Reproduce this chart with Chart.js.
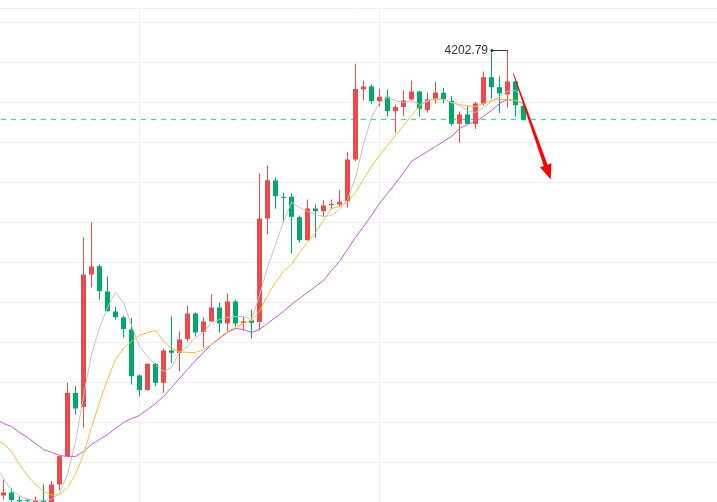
<!DOCTYPE html>
<html lang="en">
<head>
<meta charset="UTF-8">
<title>Gold candles</title>
<script src="https://cdn.jsdelivr.net/npm/chart.js"></script>
<style>
  html, body { margin: 0; padding: 0; background: #ffffff; }
  #wrap { width: 717px; height: 502px; position: relative; }
</style>
</head>
<body>
<div id="wrap"><canvas id="chart"></canvas></div>
<script>
// one entry per candle, oldest first
const opens = [4091.63, 4092.38, 4090.5, 4090.5, 4089.88, 4090.38, 4089.88, 4094.38, 4101.45, 4117.3,
  4113.75, 4146.88, 4148.95, 4142.63, 4137.63, 4136.13, 4133.13, 4121.63, 4117.95, 4124.55,
  4119.8, 4127.88, 4127.3, 4130.75, 4137.13, 4132.45, 4135.13, 4138.63, 4134.63, 4140.13,
  4134.75, 4135.38, 4135.0, 4160.88, 4170.38, 4166.3, 4166.3, 4161.2, 4155.45, 4163.38,
  4162.7, 4164.25, 4164.38, 4165.13, 4175.63, 4193.13, 4193.88, 4190.2, 4191.3, 4187.7,
  4188.75, 4190.63, 4192.63, 4188.0, 4190.63, 4192.3, 4190.3, 4184.55, 4186.88, 4184.5,
  4189.55, 4196.2, 4193.7, 4191.88, 4195.13, 4189.0];
const highs = [4095.63, 4093.38, 4091.45, 4090.88, 4091.38, 4094.38, 4095.13, 4101.63, 4119.8, 4118.95,
  4156.13, 4159.88, 4149.38, 4146.38, 4138.8, 4136.63, 4136.05, 4121.88, 4124.63, 4124.8,
  4128.38, 4136.38, 4132.63, 4139.13, 4137.45, 4136.13, 4141.88, 4139.8, 4142.13, 4140.63,
  4136.38, 4138.13, 4172.13, 4174.13, 4171.05, 4167.3, 4167.13, 4161.63, 4165.63, 4164.38,
  4165.45, 4165.63, 4167.95, 4177.55, 4199.55, 4195.38, 4194.38, 4193.3, 4193.13, 4189.38,
  4192.88, 4195.38, 4192.88, 4192.38, 4195.13, 4193.55, 4191.45, 4187.63, 4189.13, 4190.05,
  4197.63, 4202.4, 4196.45, 4202.79, 4195.75, 4189.63];
const lows = [4090.63, 4089.88, 4089.63, 4089.88, 4089.38, 4088.63, 4089.38, 4092.95, 4101.38, 4111.88,
  4108.63, 4143.63, 4140.63, 4137.63, 4135.63, 4131.13, 4119.38, 4116.38, 4117.88, 4118.95,
  4117.3, 4124.75, 4122.7, 4130.13, 4131.45, 4128.63, 4135.13, 4132.38, 4132.63, 4133.88,
  4132.88, 4130.88, 4132.88, 4156.88, 4163.3, 4159.8, 4152.2, 4154.8, 4155.38, 4156.05,
  4161.3, 4163.13, 4163.95, 4163.63, 4175.2, 4190.38, 4189.55, 4188.88, 4186.45, 4182.3,
  4186.45, 4190.2, 4186.3, 4187.38, 4189.63, 4189.63, 4184.0, 4179.8, 4184.5, 4183.25,
  4189.13, 4190.8, 4187.25, 4188.63, 4186.38, 4185.38];
const closes = [4092.38, 4090.5, 4090.13, 4090.25, 4090.5, 4089.13, 4094.38, 4101.45, 4117.3, 4113.38,
  4146.88, 4148.88, 4142.7, 4137.7, 4136.2, 4133.25, 4121.45, 4117.95, 4124.55, 4119.8,
  4127.88, 4127.3, 4130.63, 4137.13, 4132.38, 4135.13, 4138.63, 4134.63, 4140.13, 4134.63,
  4135.13, 4134.8, 4160.88, 4170.45, 4166.45, 4166.05, 4161.3, 4155.45, 4163.38, 4162.7,
  4164.13, 4164.5, 4165.05, 4175.63, 4193.25, 4193.88, 4190.2, 4191.3, 4187.7, 4188.75,
  4190.38, 4192.63, 4188.3, 4190.63, 4192.38, 4190.75, 4184.55, 4186.88, 4184.55, 4189.63,
  4196.2, 4193.7, 4192.13, 4195.13, 4189.2, 4185.63];

// moving averages; they start one bar earlier (off the left edge)
const maFast = [4099.13, 4095.88, 4092.88, 4091.63, 4090.63, 4090.38, 4090.38, 4090.63, 4092.13, 4096.88, 4105.13,
  4116.38, 4126.88, 4133.63, 4138.63, 4142.38, 4139.88, 4134.13, 4128.88, 4126.38, 4124.38,
  4122.63, 4123.63, 4127.38, 4128.88, 4131.13, 4132.38, 4134.88, 4135.63, 4136.13, 4136.38,
  4136.38, 4135.63, 4141.63, 4148.63, 4154.38, 4160.13, 4164.88, 4163.63, 4162.63, 4161.88,
  4161.38, 4161.63, 4163.13, 4165.63, 4171.13, 4179.38, 4186.13, 4189.88, 4191.13, 4190.38,
  4189.88, 4190.38, 4189.38, 4190.13, 4190.88, 4190.63, 4189.88, 4189.13, 4187.88, 4187.38,
  4188.63, 4190.13, 4191.38, 4192.63, 4192.88, 4190.88];
const maMid = [4105.38, 4104.63, 4102.63, 4099.38, 4096.63, 4094.38, 4092.63, 4091.75, 4091.88, 4093.63, 4096.88,
  4101.88, 4108.63, 4114.88, 4120.63, 4125.63, 4128.38, 4130.13, 4131.63, 4132.38, 4132.88,
  4130.13, 4128.38, 4127.63, 4127.38, 4127.38, 4128.13, 4129.38, 4131.13, 4132.63, 4133.63,
  4134.63, 4135.38, 4137.63, 4141.63, 4144.88, 4147.63, 4149.38, 4152.38, 4154.88, 4157.38,
  4160.38, 4163.38, 4163.88, 4164.88, 4167.38, 4170.63, 4173.88, 4176.63, 4179.13, 4181.63,
  4184.13, 4186.63, 4188.88, 4190.38, 4190.63, 4190.63, 4189.88, 4189.38, 4189.0, 4188.88,
  4189.63, 4190.38, 4190.63, 4190.63, 4190.38, 4189.63];
const maSlow = [4110.88, 4109.63, 4108.88, 4107.38, 4106.13, 4104.63, 4103.13, 4102.38, 4101.63, 4101.38, 4101.38,
  4102.63, 4104.38, 4105.63, 4106.88, 4108.38, 4109.88, 4110.88, 4111.63, 4113.13, 4114.63,
  4116.38, 4118.63, 4120.88, 4123.13, 4125.38, 4127.38, 4129.38, 4130.88, 4132.38, 4133.38,
  4133.13, 4132.38, 4133.13, 4134.63, 4136.13, 4137.63, 4139.38, 4140.88, 4142.38, 4143.88,
  4145.38, 4147.88, 4150.13, 4153.13, 4156.13, 4158.88, 4161.63, 4164.63, 4167.13, 4169.63,
  4172.38, 4175.13, 4176.38, 4177.63, 4178.88, 4180.13, 4181.38, 4183.38, 4184.38, 4185.13,
  4186.38, 4187.88, 4189.63, 4190.63, 4190.38, 4189.63];

// gridlines (price levels) and the two time separators (candle index)
const priceGrid = [4213.5, 4210, 4200, 4190, 4180, 4170, 4160, 4150, 4140, 4130, 4120, 4110, 4100, 4090];
const timeGrid = [17, 47];

// hand-drawn arrow, in candle index / price
const arrowFrom = { x: 63.72, y: 4197.13 };
const arrowTo = { x: 68.4, y: 4170.63 };

const up = '#eb4b4b';
const down = '#00a86b';
const idx = opens.map((_, i) => i);
const candleColors = idx.map(i => closes[i] >= opens[i] ? up : down);

const overlays = {
  id: 'overlays',
  beforeDatasetsDraw(chart) {
    const { ctx, chartArea, scales: { x, y } } = chart;
    const last = closes.length - 1;
    const py = y.getPixelForValue(closes[last]);
    ctx.save();
    // last price line
    ctx.strokeStyle = '#22bd7f';
    ctx.globalAlpha = 0.75;
    ctx.lineWidth = 1.3;
    ctx.setLineDash([5, 5]);
    ctx.beginPath();
    ctx.moveTo(chartArea.left + 1, py);
    ctx.lineTo(chartArea.right, py);
    ctx.stroke();
    ctx.globalAlpha = 1;
    // soft glow behind the live candle
    const cx = x.getPixelForValue(last);
    const top = y.getPixelForValue(Math.max(opens[last], closes[last]));
    const bot = y.getPixelForValue(Math.min(opens[last], closes[last]));
    ctx.setLineDash([]);
    ctx.shadowColor = 'rgba(0,168,107,0.55)';
    ctx.shadowBlur = 7;
    ctx.fillStyle = down;
    ctx.fillRect(cx - 2.5, top, 5, bot - top);
    ctx.restore();
  },
  afterDatasetsDraw(chart) {
    const { ctx, scales: { x, y } } = chart;
    ctx.save();

    // highest high marker
    const hi = highs.indexOf(Math.max(...highs));
    const hx = Math.round(x.getPixelForValue(hi));
    const hy = Math.round(y.getPixelForValue(highs[hi])) - 0.5;
    ctx.strokeStyle = '#2f333a';
    ctx.fillStyle = '#2f333a';
    ctx.lineWidth = 1;
    ctx.beginPath();
    ctx.moveTo(hx - 16, hy);
    ctx.lineTo(hx, hy);
    ctx.stroke();
    ctx.beginPath();
    ctx.arc(hx - 16, hy, 1.6, 0, Math.PI * 2);
    ctx.fill();
    ctx.font = '12px "Liberation Sans", Arial, sans-serif';
    ctx.textAlign = 'right';
    ctx.textBaseline = 'middle';
    ctx.fillText(highs[hi].toFixed(2), hx - 20, hy);

    // red arrow
    const sx = x.getPixelForValue(arrowFrom.x), sy = y.getPixelForValue(arrowFrom.y);
    const tx = x.getPixelForValue(arrowTo.x), ty = y.getPixelForValue(arrowTo.y);
    const len = Math.hypot(tx - sx, ty - sy);
    const ux = (tx - sx) / len, uy = (ty - sy) / len;
    const nx = -uy, ny = ux;
    const head = 15;
    const bx = tx - ux * head, by = ty - uy * head;
    ctx.fillStyle = '#ff0000';
    ctx.beginPath();
    ctx.moveTo(sx + nx * 0.4, sy + ny * 0.4);
    ctx.lineTo(bx + nx * 2, by + ny * 2);
    ctx.lineTo(bx + nx * 6, by + ny * 6);
    ctx.lineTo(tx, ty);
    ctx.lineTo(bx - nx * 6, by - ny * 6);
    ctx.lineTo(bx - nx * 2, by - ny * 2);
    ctx.lineTo(sx - nx * 0.4, sy - ny * 0.4);
    ctx.closePath();
    ctx.fill();
    ctx.restore();
  }
};

const maLine = (data, color) => ({
  type: 'line',
  data: data.map((v, i) => ({ x: i - 1, y: v })),
  borderColor: color,
  borderWidth: 1,
  pointRadius: 0,
  tension: 0,
  order: 1
});

new Chart(document.getElementById('chart'), {
  type: 'bar',
  data: {
    datasets: [
      maLine(maFast, '#c3c3c3'),
      maLine(maMid, '#fdbd3a'),
      maLine(maSlow, '#c957e6'),
      {
        // bodies
        data: idx.map(i => ({ x: i, y: [opens[i], closes[i]] })),
        backgroundColor: candleColors,
        maxBarThickness: 5,
        minBarLength: 1,
        grouped: false,
        borderWidth: 0,
        inflateAmount: 0,
        order: 2
      },
      {
        // wicks
        data: idx.map(i => ({ x: i, y: [lows[i], highs[i]] })),
        backgroundColor: candleColors,
        maxBarThickness: 1,
        grouped: false,
        borderWidth: 0,
        inflateAmount: 0,
        order: 3
      }
    ]
  },
  options: {
    responsive: true,
    maintainAspectRatio: false,
    animation: false,
    devicePixelRatio: 1,
    layout: { padding: { top: 8, left: 0, right: 0, bottom: 0 } },
    plugins: { legend: { display: false }, tooltip: { enabled: false } },
    scales: {
      x: {
        type: 'linear',
        min: -0.4375,
        max: 89.1875,
        offset: false,
        afterBuildTicks: s => { s.ticks = timeGrid.map(v => ({ value: v })); },
        grid: { color: '#efefef', drawTicks: false, offset: false },
        border: { display: false },
        ticks: { display: false }
      },
      y: {
        min: 4090,
        max: 4213.5,
        afterBuildTicks: s => { s.ticks = priceGrid.map(v => ({ value: v })); },
        grid: { color: '#efefef', drawTicks: false },
        border: { display: false },
        ticks: { display: false }
      }
    }
  },
  plugins: [overlays]
});
</script>
</body>
</html>
